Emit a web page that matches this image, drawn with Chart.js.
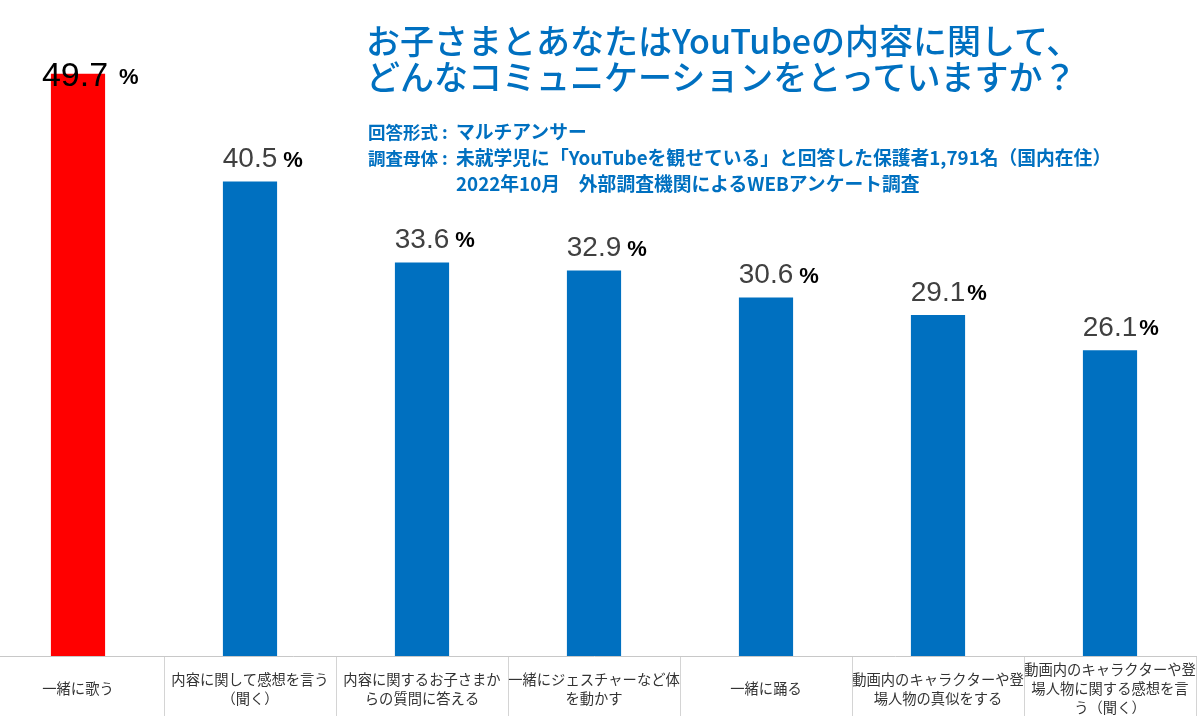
<!DOCTYPE html>
<html lang="ja">
<head>
<meta charset="utf-8">
<script src="https://cdn.jsdelivr.net/npm/chart.js@4.4.1/dist/chart.umd.min.js"></script>
<style>
  html, body { margin: 0; padding: 0; background: #fff; overflow: hidden; }
  body { width: 1200px; height: 716px; position: relative; }
  #wrap { position: absolute; left: -8px; top: 0; width: 1212px; height: 716px; }
  .title {
    position: absolute; left: 366px; top: 22px;
    font-family: "Noto Sans CJK JP", sans-serif; font-weight: 500;
    font-size: 34px; line-height: 36px; color: #0070c0; white-space: nowrap;
  }
  .info {
    position: absolute; left: 368px; top: 118px;
    font-family: "Noto Sans CJK JP", sans-serif; font-weight: 700;
    font-size: 17.5px; line-height: 25px; color: #0070c0; white-space: nowrap;
  }
  .info .k { display: inline-block; width: 88px; }
  .info .v { font-size: 18.8px; }
</style>
</head>
<body>
<div id="wrap"><canvas id="commChart"></canvas></div>
<div class="title">お子さまとあなたはYouTubeの内容に関して、<br>どんなコミュニケーションをとっていますか？</div>
<div class="info">
  <div><span class="k">回答形式 :</span><span class="v">マルチアンサー</span></div>
  <div><span class="k">調査母体 :</span><span class="v">未就学児に「YouTubeを観せている」と回答した保護者1,791名（国内在住）</span></div>
  <div><span class="k"></span><span class="v">2022年10月　外部調査機関によるWEBアンケート調査</span></div>
</div>
<script>
const categories = [
  "一緒に歌う",
  ["内容に関して感想を言う", "（聞く）"],
  ["内容に関するお子さまか", "らの質問に答える"],
  ["一緒にジェスチャーなど体", "を動かす"],
  "一緒に踊る",
  ["動画内のキャラクターや登", "場人物の真似をする"],
  ["動画内のキャラクターや登", "場人物に関する感想を言", "う（聞く）"],
];
const values = [49.7, 40.5, 33.6, 32.9, 30.6, 29.1, 26.1];
const barColors = ["#ff0000", "#0070c0", "#0070c0", "#0070c0", "#0070c0", "#0070c0", "#0070c0"];

const valueLabelPlugin = {
  id: "valueLabels",
  afterDatasetsDraw(chart) {
    const ctx = chart.ctx;
    const meta = chart.getDatasetMeta(0);
    meta.data.forEach((bar, i) => {
      const first = i === 0;
      const num = values[i].toFixed(1);
      const cx = first ? bar.x - 3 : bar.x;
      ctx.save();
      ctx.textBaseline = "middle";
      ctx.textAlign = "center";
      ctx.font = (first ? "34px" : "28px") + " 'Liberation Sans', Arial, sans-serif";
      ctx.fillStyle = first ? "#000" : "#404040";
      const y = first ? bar.y + 3 : bar.y - 22;
      ctx.fillText(num, cx, y);
      const w = ctx.measureText(num).width;
      ctx.textAlign = "left";
      ctx.font = "bold 22px 'Liberation Sans', Arial, sans-serif";
      ctx.fillStyle = "#000";
      const gap = first ? 11 : (i >= 5 ? 2 : 6);
      ctx.fillText("%", cx + w / 2 + gap, y + 1);
      ctx.restore();
    });
  },
};

const ctx = document.getElementById("commChart").getContext("2d");
const commChart = new Chart(ctx, {
  type: "bar",
  data: {
    labels: categories,
    datasets: [
      {
        data: values,
        backgroundColor: barColors,
        borderWidth: 0,
        categoryPercentage: 1,
        barPercentage: 0.315,
      },
    ],
  },
  options: {
    responsive: true,
    maintainAspectRatio: false,
    animation: false,
    layout: { padding: { left: 0, right: 8, top: 0, bottom: 0 } },
    scales: {
      y: {
        display: false,
        min: 0,
        max: 56,
      },
      x: {
        grid: {
          drawOnChartArea: false,
          drawTicks: true,
          tickLength: 60,
          color: "#d4d4d4",
        },
        border: { display: true, color: "#c8c8c8" },
        ticks: {
          padding: -46,
          crossAlign: "center",
          color: "#333",
          autoSkip: false,
          maxRotation: 0,
          font: { family: "'Noto Sans CJK JP', sans-serif", size: 14.3, lineHeight: 1.33 },
        },
        afterFit: (scale) => {
          scale.height = 60;
        },
      },
    },
    plugins: {
      legend: { display: false },
      tooltip: { enabled: false },
    },
    devicePixelRatio: window.devicePixelRatio,
  },
  plugins: [valueLabelPlugin],
});
</script>
</body>
</html>
